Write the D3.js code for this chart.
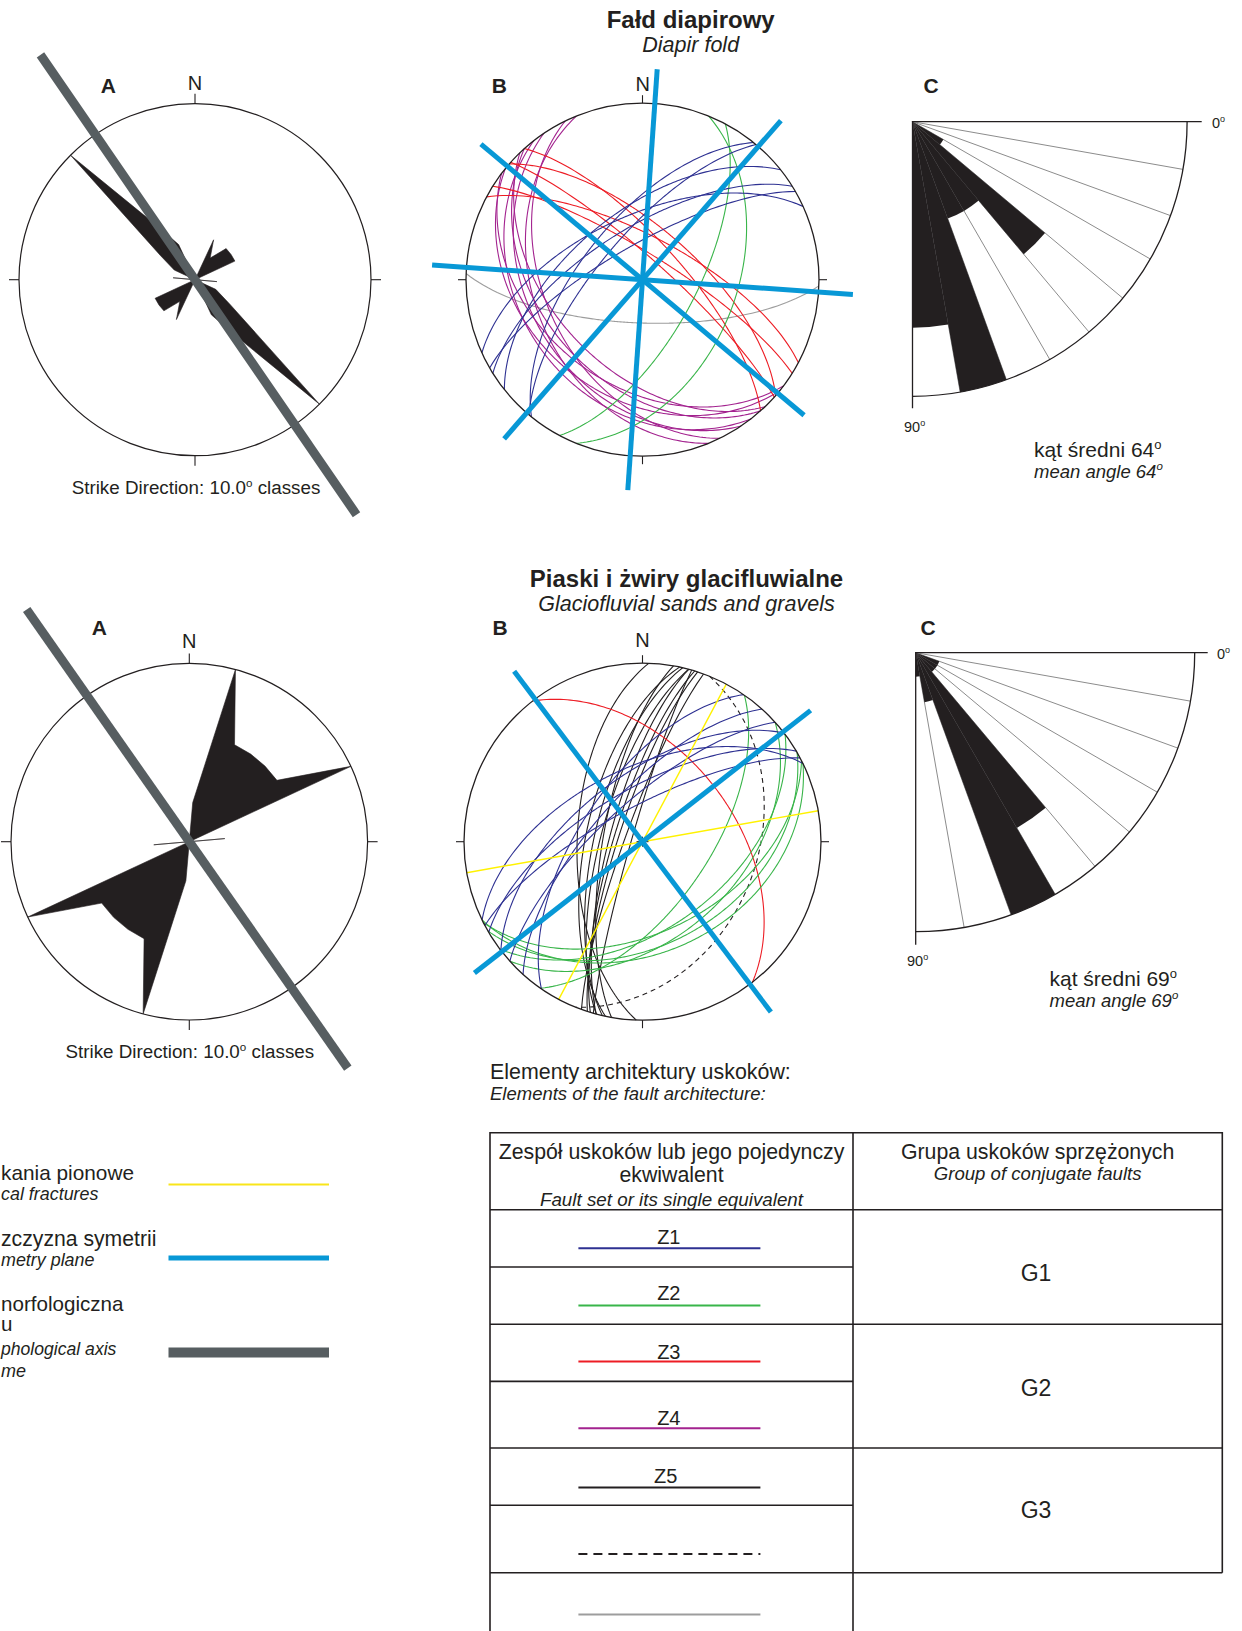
<!DOCTYPE html>
<html>
<head>
<meta charset="utf-8">
<script src="https://cdn.jsdelivr.net/npm/d3@7"></script>
<style>
  body { margin: 0; background: #fff; }
  svg text { font-family: "Liberation Sans", Arial, Helvetica, sans-serif; fill: #231f20; }
</style>
</head>
<body>
<svg id="fig" width="1242" height="1631"></svg>
<script>
// ---------------- data ----------------
// strike rose: 10° classes (mid-angles), relative frequency; strikes are axial, drawn at a and a+180
const strikeClassMid = [5, 15, 25, 35, 45, 55, 65, 75, 85, 95, 105, 115, 125, 135, 145, 155, 165, 175];
const strikeFold     = [0, 0, 0.25, 0.15, 0.25, 0.25, 0.25, 0, 0, 0.125, 0, 0.13, 0.24, 1, 0.37, 0.22, 0, 0];
const strikeGlacio   = [0.22, 1, 0.6, 0.6, 0.6, 0.6, 1, 0, 0.2, 0, 0, 0, 0, 0, 0, 0, 0, 0];

// morphological axis of the landform (azimuth, deg)
const morphAxisFold = 325.5;
const morphAxisGlacio = 325;

// symmetry planes (vertical, strike azimuth)
const symmetryFold = [4, 310, 41, 274];
const symmetryGlacio = [323, 52];

// vertical fractures (strike azimuth)
const fracturesGlacio = [80, 28];

// fault planes as [dip direction, dip]
const z1Fold = [[309, 62], [310, 70], [321.5, 58], [328, 66], [330, 74], [335.5, 60]];
const z2Fold = [[112, 46], [118, 65]];
const z3Fold = [[48, 72], [41.7, 80], [41, 66], [32, 78], [28, 70]];
const z4Fold = [[248, 38], [244, 44], [236, 36], [228, 42], [226, 48], [219, 34], [217, 40], [232, 31]];
const otherFold = [[182, 70]];

const z1Glacio = [[304.5, 62], [312, 68], [318, 72], [322.5, 60], [329.5, 66], [332, 74], [334, 56]];
const z2Glacio = [[124.8, 60], [138, 45], [143, 50], [150, 42], [153, 48], [154, 38]];
const z3Glacio = [[52, 48]];
const z5Glacio = [[272, 60], [280, 72], [282, 64], [283, 68], [285, 71], [285, 75], [287, 77], [288, 79], [290, 82], [286, 85]];
const g3Glacio = [[112, 36]];

// fault dip angles: 10° classes 0–90, relative frequency
const dipClasses = [0, 10, 20, 30, 40, 50, 60, 70, 80];
const dipFold   = [0, 0, 0, 0.13, 0.63, 0.375, 0.375, 1, 0.75];
const dipGlacio = [0, 0, 0.09, 0.09, 0.09, 0.725, 1, 0.18, 0.086];
const meanAngleFold = 64;
const meanAngleGlacio = 69;

// legend / table
const faultSets = [
  { id: "Z1", color: "#2e3192", dash: null },
  { id: "Z2", color: "#39b54a", dash: null },
  { id: "Z3", color: "#ed1c24", dash: null },
  { id: "Z4", color: "#a3238f", dash: null },
  { id: "Z5", color: "#231f20", dash: null },
  { id: "",   color: "#231f20", dash: "9,6" },
  { id: "",   color: "#9d9d9d", dash: null }
];
const groups = ["G1", "G2", "G3"];

// ---------------- drawing ----------------
const rad = Math.PI / 180;
const INK = "#231f20";
const BLUE = "#0898d6";
const AXIS_GREY = "#575e61";
const svg = d3.select("#fig");
svg.append("rect").attr("width", 1242).attr("height", 1631).attr("fill", "#fff");

function txt(x, y, s, size, opts = {}) {
  const t = svg.append("text").attr("x", x).attr("y", y)
    .attr("font-size", size)
    .attr("text-anchor", opts.anchor || "start")
    .attr("font-weight", opts.bold ? "bold" : null)
    .attr("font-style", opts.italic ? "italic" : null)
    .text(s);
  if (opts.sup) {
    t.append("tspan").attr("dy", -size * 0.38).attr("font-size", size * 0.62).text(opts.sup);
  }
  return t;
}

function ticks(g, cx, cy, R, len) {
  [0, 90, 180, 270].forEach(a => {
    const s = Math.sin(a * rad), c = Math.cos(a * rad);
    g.append("line")
      .attr("x1", cx + R * s).attr("y1", cy - R * c)
      .attr("x2", cx + (R + len) * s).attr("y2", cy - (R + len) * c)
      .attr("stroke", INK).attr("stroke-width", 1.1);
  });
}

function strikeRose(cx, cy, R, values, axisAz, axisExt) {
  const g = svg.append("g");
  const r = d3.scaleLinear().domain([0, 1]).range([0, R]);
  const pts = [];
  [0, 180].forEach(off => strikeClassMid.forEach((a, i) => pts.push({ a: a + off, v: values[i] })));
  const petal = d3.lineRadial()
    .angle(d => d.a * rad)
    .radius(d => r(d.v))
    .curve(d3.curveLinearClosed);
  g.append("circle").attr("cx", cx).attr("cy", cy).attr("r", R)
    .attr("fill", "none").attr("stroke", INK).attr("stroke-width", 1.2);
  ticks(g, cx, cy, R, 10);
  g.append("path").attr("transform", `translate(${cx},${cy})`)
    .attr("d", petal(pts)).attr("fill", INK).attr("stroke", INK).attr("stroke-width", 0.6)
    .attr("stroke-linejoin", "miter");
  // morphological axis
  const s = Math.sin(axisAz * rad), c = Math.cos(axisAz * rad);
  g.append("line")
    .attr("x1", cx + axisExt[0] * R * s).attr("y1", cy - axisExt[0] * R * c)
    .attr("x2", cx - axisExt[1] * R * s).attr("y2", cy + axisExt[1] * R * c)
    .attr("stroke", AXIS_GREY).attr("stroke-width", 9);
}

function greatCircle(dd, dip) {
  if (dip >= 89.9) {
    const s = (dd + 90) * rad;
    return [[Math.sin(s), Math.cos(s)], [-Math.sin(s), -Math.cos(s)]];
  }
  return d3.range(-90, 90.01, 1).map(k => {
    const t = (dd + k) * rad;
    const p = Math.atan(Math.tan(dip * rad) * Math.cos(k * rad));
    const rho = Math.SQRT2 * Math.sin((Math.PI / 2 - p) / 2); // equal-area, lower hemisphere
    return [rho * Math.sin(t), rho * Math.cos(t)];
  });
}

function stereonet(cx, cy, R, sets, fractures, symmetry, centreMark) {
  const g = svg.append("g");
  const x = d3.scaleLinear().domain([-1, 1]).range([cx - R, cx + R]);
  const y = d3.scaleLinear().domain([-1, 1]).range([cy + R, cy - R]);
  const line = d3.line().x(d => x(d[0])).y(d => y(d[1]));
  g.append("circle").attr("cx", cx).attr("cy", cy).attr("r", R).attr("fill", "#fff");
  sets.forEach(set => set.planes.forEach(([dd, dip]) => {
    g.append("path").attr("d", line(greatCircle(dd, dip)))
      .attr("fill", "none").attr("stroke", set.color).attr("stroke-width", set.width || 1.1)
      .attr("stroke-dasharray", set.dash || null);
  }));
  fractures.forEach(strike => {
    g.append("path").attr("d", line(greatCircle(strike + 90, 90)))
      .attr("fill", "none").attr("stroke", "#fff200").attr("stroke-width", 1.4);
  });
  g.append("circle").attr("cx", cx).attr("cy", cy).attr("r", R)
    .attr("fill", "none").attr("stroke", INK).attr("stroke-width", 1.3);
  ticks(g, cx, cy, R, 8);
  if (centreMark) {
    g.append("path").attr("d", `M${cx - 6},${cy}H${cx + 6}M${cx},${cy - 5}V${cy + 5}`)
      .attr("stroke", INK).attr("stroke-width", 1);
  }
  const ext = 1.195;
  symmetry.forEach(a => {
    const s = Math.sin(a * rad), c = Math.cos(a * rad);
    g.append("line")
      .attr("x1", x(ext * s)).attr("y1", y(ext * c))
      .attr("x2", x(-ext * s)).attr("y2", y(-ext * c))
      .attr("stroke", BLUE).attr("stroke-width", 5);
  });
}

function dipRose(ox, oy, Rc, values, axisOver) {
  const g = svg.append("g");
  const r = d3.scaleLinear().domain([0, 1]).range([0, Rc]);
  // class boundaries
  dipClasses.slice(1).forEach(a => {
    g.append("line").attr("x1", ox).attr("y1", oy)
      .attr("x2", ox + Rc * Math.cos(a * rad)).attr("y2", oy + Rc * Math.sin(a * rad))
      .attr("stroke", "#8c8c8c").attr("stroke-width", 1);
  });
  const sector = d3.arc().innerRadius(0);
  values.forEach((v, i) => {
    if (v <= 0) return;
    g.append("path").attr("transform", `translate(${ox},${oy})`)
      .attr("d", sector({ outerRadius: r(v), startAngle: (90 + dipClasses[i]) * rad, endAngle: (100 + dipClasses[i]) * rad }))
      .attr("fill", INK);
  });
  const p = d3.path();
  p.moveTo(ox + Rc, oy);
  p.arc(ox, oy, Rc, 0, Math.PI / 2);
  g.append("path").attr("d", p.toString()).attr("fill", "none").attr("stroke", INK).attr("stroke-width", 1.3);
  g.append("path").attr("d", `M${ox + Rc + axisOver[0]},${oy}H${ox}V${oy + Rc + axisOver[1]}`)
    .attr("fill", "none").attr("stroke", INK).attr("stroke-width", 1.3);
}

// ---------- row 1: diapir fold ----------
txt(690.7, 28, "Fałd diapirowy", 24, { anchor: "middle", bold: true });
txt(690.7, 52, "Diapir fold", 21.5, { anchor: "middle", italic: true });

strikeRose(195, 279.7, 176, strikeFold, morphAxisFold, [1.55, 1.62]);
txt(108.3, 93.3, "A", 21, { anchor: "middle", bold: true });
txt(195, 90, "N", 20, { anchor: "middle" });
txt(196, 494, "Strike Direction: 10.0", 18.8, { anchor: "middle", sup: "o" }).append("tspan").attr("dy", 18.8 * 0.38).text(" classes");

stereonet(642.5, 279.7, 176.5, [
  { planes: otherFold, color: "#9d9d9d" },
  { planes: z4Fold, color: "#a3238f" },
  { planes: z3Fold, color: "#ed1c24" },
  { planes: z2Fold, color: "#39b54a" },
  { planes: z1Fold, color: "#2e3192" }
], [], symmetryFold, false);
txt(499.3, 93.3, "B", 21, { anchor: "middle", bold: true });
txt(642.7, 90.7, "N", 20, { anchor: "middle" });

dipRose(912.5, 121.7, 274.6, dipFold, [14.6, 12]);
txt(931, 93, "C", 21, { anchor: "middle", bold: true });
txt(1212, 127.5, "0", 14.5, { sup: "o" });
txt(904, 432, "90", 14.5, { sup: "o" });
txt(1034, 456.5, `kąt średni ${meanAngleFold}`, 21, { sup: "o" });
txt(1034, 477.5, `mean angle ${meanAngleFold}`, 18.5, { italic: true, sup: "o" });

// ---------- row 2: glaciofluvial sands and gravels ----------
txt(686.5, 586.7, "Piaski i żwiry glacifluwialne", 24, { anchor: "middle", bold: true });
txt(686.5, 610.6, "Glaciofluvial sands and gravels", 21.5, { anchor: "middle", italic: true });

strikeRose(189.3, 841.7, 178.3, strikeGlacio, morphAxisGlacio, [1.59, 1.55]);
txt(99.3, 635, "A", 21, { anchor: "middle", bold: true });
txt(189.3, 648.3, "N", 20, { anchor: "middle" });
txt(189.8, 1058.3, "Strike Direction: 10.0", 18.8, { anchor: "middle", sup: "o" }).append("tspan").attr("dy", 18.8 * 0.38).text(" classes");

stereonet(642.5, 841.7, 178.5, [
  { planes: z5Glacio, color: "#231f20" },
  { planes: g3Glacio, color: "#231f20", dash: "5,4" },
  { planes: z3Glacio, color: "#ed1c24" },
  { planes: z2Glacio, color: "#39b54a" },
  { planes: z1Glacio, color: "#2e3192" }
], fracturesGlacio, symmetryGlacio, true);
txt(500, 635, "B", 21, { anchor: "middle", bold: true });
txt(642.5, 646.7, "N", 20, { anchor: "middle" });

dipRose(915.7, 652.7, 279, dipGlacio, [13, 13]);
txt(928, 635, "C", 21, { anchor: "middle", bold: true });
txt(1217, 658.5, "0", 14.5, { sup: "o" });
txt(907, 965.5, "90", 14.5, { sup: "o" });
txt(1049.5, 986, `kąt średni ${meanAngleGlacio}`, 21, { sup: "o" });
txt(1049.5, 1006.5, `mean angle ${meanAngleGlacio}`, 18.5, { italic: true, sup: "o" });

// ---------- legend (left margin, lines begin at the page edge) ----------
txt(1, 1180, "kania pionowe", 20.8);
txt(1, 1200, "cal fractures", 17.9, { italic: true });
txt(1, 1245.7, "zczyzna symetrii", 21.2);
txt(1, 1265.7, "metry plane", 17.9, { italic: true });
txt(1, 1310.7, "norfologiczna", 20.6);
txt(1, 1331, "u", 20.6);
txt(1, 1355, "phological axis", 17.6, { italic: true });
txt(1, 1376.7, "me", 18, { italic: true });
svg.append("line").attr("x1", 168.5).attr("x2", 329).attr("y1", 1184.5).attr("y2", 1184.5)
  .attr("stroke", "#f9e51a").attr("stroke-width", 2);
svg.append("line").attr("x1", 168.5).attr("x2", 329).attr("y1", 1258).attr("y2", 1258)
  .attr("stroke", BLUE).attr("stroke-width", 5);
svg.append("line").attr("x1", 168.5).attr("x2", 329).attr("y1", 1352.5).attr("y2", 1352.5)
  .attr("stroke", AXIS_GREY).attr("stroke-width", 10);

// ---------- fault architecture table ----------
txt(490, 1078.7, "Elementy architektury uskoków:", 21.4);
txt(490, 1099.5, "Elements of the fault architecture:", 18.5, { italic: true });

const tL = 490, tM = 853, tR = 1222.3;
const rowY = [1132.8, 1209.8, 1267, 1324.2, 1381.4, 1448, 1505.2, 1572.8, 1640];
const tg = svg.append("g").attr("stroke", INK).attr("stroke-width", 1.6).attr("fill", "none");
tg.append("path").attr("d", `M${tL},1640V${rowY[0]}H${tR}V${rowY[7]}`);
tg.append("line").attr("x1", tM).attr("x2", tM).attr("y1", rowY[0]).attr("y2", 1640);
[1, 3, 5, 7].forEach(i => tg.append("line").attr("x1", tL).attr("x2", tR).attr("y1", rowY[i]).attr("y2", rowY[i]));
[2, 4, 6].forEach(i => tg.append("line").attr("x1", tL).attr("x2", tM).attr("y1", rowY[i]).attr("y2", rowY[i]));

const cL = (tL + tM) / 2, cR = (tM + tR) / 2;
txt(cL, 1158.8, "Zespół uskoków lub jego pojedynczy", 21.3, { anchor: "middle" });
txt(cL, 1181.7, "ekwiwalent", 21.3, { anchor: "middle" });
txt(cL, 1205.6, "Fault set or its single equivalent", 18.8, { anchor: "middle", italic: true });
txt(cR, 1158.8, "Grupa uskoków sprzężonych", 21.3, { anchor: "middle" });
txt(cR, 1179.6, "Group of conjugate faults", 18.6, { anchor: "middle", italic: true });

const labelY = [1244, 1300.3, 1358.5, 1425, 1483.3, null, null];
const lineY = [1248.2, 1305.5, 1361.6, 1428.2, 1487.5, 1554, 1614.4];
faultSets.forEach((f, i) => {
  if (f.id) txt(i === 4 ? 665.7 : 668.8, labelY[i], f.id, 20, { anchor: "middle" });
  svg.append("line").attr("x1", 578.4).attr("x2", 760.4).attr("y1", lineY[i]).attr("y2", lineY[i])
    .attr("stroke", f.color).attr("stroke-width", 2).attr("stroke-dasharray", f.dash);
});
const groupY = [1280.5, 1396, 1517.7];
groups.forEach((gName, i) => txt(1036, groupY[i], gName, 23, { anchor: "middle" }));
</script>
</body>
</html>
